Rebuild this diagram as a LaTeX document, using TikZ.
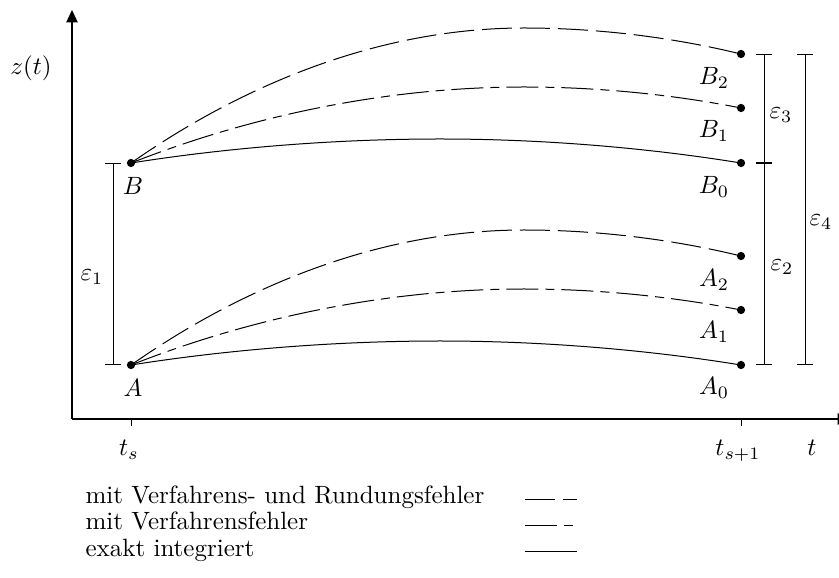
\documentclass[tikz,border=0pt]{standalone}
\usetikzlibrary{arrows.meta}
\begin{document}
\begin{tikzpicture}[x=0.4pt,y=-0.4pt,
  every node/.style={inner sep=0pt},
  pt/.style={circle,fill=black,inner sep=0pt,minimum size=3.3pt},
  curve/.style={line width=0.4pt},
  rfehler/.style={curve,dash pattern=on 12pt off 3.2pt},
  vfehler/.style={curve,dash pattern=on 12.8pt off 2.8pt on 3.6pt off 2.8pt},
  exakt/.style={curve},
  axis/.style={line width=0.5pt,-{Triangle[length=5pt,width=4.6pt]}},
  errbar/.style={line width=0.4pt,{Bar[width=6.4pt]}-{Bar[width=6.4pt]}},
  tick/.style={line width=0.4pt}
]
\useasboundingbox (0,0) rectangle (839,578);
\clip (0,0) rectangle (839,578);

% axes
\coordinate (O) at (72,419);
\coordinate (ytop) at (72,10);
\coordinate (xend) at (850,419);
\draw[axis] (O) -- (ytop);
\draw[axis] (O) -- (xend);
\coordinate (ts) at (131,419);
\coordinate (tsb) at (131,426);
\coordinate (ts1) at (741,419);
\coordinate (ts1b) at (741,426);
\draw[tick] (ts) -- (tsb);
\draw[tick] (ts1) -- (ts1b);
\node (zt) at (31,68) {$z(t)$};
\node[anchor=base] (lts) at (129,456) {$t_s$};
\node[anchor=base] (lts1) at (738,456) {$t_{s+1}$};
\node[anchor=base] (lt) at (812,456) {$t$};

% points
\node[pt] (A) at (131,365) {};
\node[pt] (A0) at (741,365) {};
\node[pt] (A1) at (741,310) {};
\node[pt] (A2) at (741,256) {};
\node[pt] (B) at (131,163) {};
\node[pt] (B0) at (741,163) {};
\node[pt] (B1) at (741,108) {};
\node[pt] (B2) at (741,54) {};

% curves
\draw[exakt] (A.center) parabola bend (440,341) (A0.center);
\draw[vfehler] (A.center) parabola bend (524,289) (A1.center);
\draw[rfehler] (A.center) parabola bend (524,230) (A2.center);
\draw[exakt] (B.center) parabola bend (440,139) (B0.center);
\draw[vfehler] (B.center) parabola bend (524,87) (B1.center);
\draw[rfehler] (B.center) parabola bend (524,28) (B2.center);

% point labels
\node (lA) at (133,388) {$A$};
\node (lB) at (133,186) {$B$};
\node (lA0) at (714,388) {$A_0$};
\node (lA1) at (714,332) {$A_1$};
\node (lA2) at (714,280) {$A_2$};
\node (lB0) at (714,187) {$B_0$};
\node (lB1) at (714,131) {$B_1$};
\node (lB2) at (714,78) {$B_2$};

% error bars
\coordinate (e1t) at (113,163);
\coordinate (e1b) at (113,365);
\coordinate (e3t) at (764,54);
\coordinate (e3b) at (764,163);
\coordinate (e2b) at (764,365);
\coordinate (e4t) at (805,54);
\coordinate (e4b) at (805,365);
\draw[errbar] (e1t) -- (e1b);
\draw[errbar] (e3t) -- (e3b);
\draw[errbar] (e3b) -- (e2b);
\draw[errbar] (e4t) -- (e4b);
\node (le1) at (92,277) {$\varepsilon_1$};
\node (le3) at (781,115) {$\varepsilon_3$};
\node (le2) at (782,267) {$\varepsilon_2$};
\node (le4) at (821,222) {$\varepsilon_4$};

% legend
\node[anchor=base west] (L1) at (85,504) {mit Verfahrens- und Rundungsfehler};
\node[anchor=base west] (L2) at (85,530) {mit Verfahrensfehler};
\node[anchor=base west] (L3) at (85,556) {exakt integriert};
\coordinate (s1a) at (525,499);
\coordinate (s1b) at (577,499);
\coordinate (s2a) at (525,525);
\coordinate (s2b) at (577,525);
\coordinate (s3a) at (525,551);
\coordinate (s3b) at (577,551);
\draw[rfehler] (s1a) -- (s1b);
\draw[vfehler] (s2a) -- (s2b);
\draw[exakt] (s3a) -- (s3b);
\end{tikzpicture}
\end{document}
